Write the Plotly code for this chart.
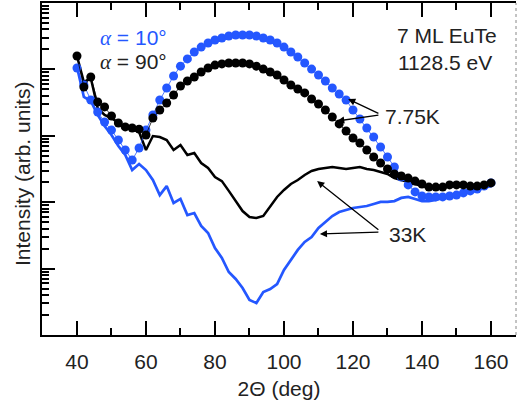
import math
import plotly.graph_objects as go

# Scattering angle 2Θ (deg), sampled every 2 degrees
theta = list(range(40, 161, 2))

# 7.75 K, alpha = 10 deg (blue dots)
i_a10_775K = [10500, 5820, 3460, 2280, 1610, 1220, 865, 611, 432, 655,
              1220, 2060, 3460, 5250, 7960, 11200, 14400, 18300, 21700, 25000,
              27700, 29700, 31800, 33000, 33000, 33000, 31800, 29700, 27700, 25000,
              21700, 18300, 15400, 12500, 10100, 8240, 6680, 5250, 4260, 3460,
              2450, 1790, 1310, 959, 678, 480, 339, 240, 182, 143,
              124, 120, 120, 120, 124, 128, 138, 148, 158, 175, 195]

# 7.75 K, alpha = 90 deg (black dots)
i_a90_775K = [15900, 5430, 7690, 3230, 2720, 1990, 1560, 1360, 1310, 1260,
              1030, 1850, 2450, 3120, 4110, 5620, 6680, 7690, 9140, 10500,
              11600, 12100, 12500, 12500, 12500, 12100, 11200, 10100, 9140, 8240,
              6920, 5820, 5070, 4420, 3580, 3010, 2450, 1920, 1510, 1180,
              927, 780, 611, 480, 389, 316, 266, 248, 231, 208,
              188, 169, 169, 169, 182, 182, 182, 175, 175, 182, 195]

# 33 K, alpha = 10 deg (blue line)
i_a10_33K = [10900, 3840, 3340, 2060, 1410, 1030, 702, 514, 305, 376,
             305, 216, 128, 175, 97.3, 112, 64.1, 68.7, 43.9, 34.4,
             20.4, 14.5, 8.89, 6.97, 5.11, 3.37, 3.03, 4.45, 4.93, 5.86,
             9.53, 13.5, 19.1, 25.2, 29.9, 40.8, 50.4, 61.9, 71.1, 76.4,
             81.8, 84.7, 87.7, 94.0, 101, 101, 104, 116, 120, 112,
             104, 104, 108, 116, 124, 133, 138, 143, 153, 164, 175]

# 33 K, alpha = 90 deg (black line)
i_a90_33K = [15900, 6460, 7410, 2620, 2060, 1850, 1560, 1360, 1260, 1140,
             611, 993, 959, 865, 611, 726, 514, 551, 389, 327,
             240, 208, 148, 104, 73.6, 59.8, 57.8, 61.9, 87.7, 120,
             153, 188, 216, 257, 295, 316, 327, 339, 327, 316,
             327, 339, 316, 305, 285, 266, 231, 216, 201, 188,
             175, 169, 169, 169, 182, 182, 182, 175, 175, 182, 195]

x_major = [40, 60, 80, 100, 120, 140, 160]
x_minor = [50, 70, 90, 110, 130, 150]
y_major = [1, 10, 100, 1000, 10000, 100000]
y_minor = [k * 10 ** n for n in range(5) for k in range(2, 10)]

BLUE = "#2457ff"
BLACK = "#000000"
TEXT = "#222222"
FONT = "Liberation Sans, Arial, sans-serif"

fig = go.Figure()

fig.add_trace(go.Scatter(x=theta, y=i_a90_33K, mode="lines",
                         line=dict(color=BLACK, width=2.5), name="α=90°, 33K"))
fig.add_trace(go.Scatter(x=theta, y=i_a10_33K, mode="lines",
                         line=dict(color=BLUE, width=2.7), name="α=10°, 33K"))
fig.add_trace(go.Scatter(x=theta, y=i_a10_775K, mode="lines+markers",
                         line=dict(color=BLUE, width=0.8),
                         marker=dict(color=BLUE, size=9), name="α=10°, 7.75K"))
fig.add_trace(go.Scatter(x=theta, y=i_a90_775K, mode="lines+markers",
                         line=dict(color=BLACK, width=0.8),
                         marker=dict(color=BLACK, size=9), name="α=90°, 7.75K"))

axis_common = dict(showgrid=False, zeroline=False, tickcolor=BLACK,
                   linecolor=BLACK, automargin=False)

fig.update_layout(
    width=518, height=407,
    margin=dict(l=42, r=2, t=3, b=72),
    template="none",
    plot_bgcolor="white", paper_bgcolor="white",
    showlegend=False,
    font=dict(family=FONT, size=21, color=TEXT),
    xaxis=dict(
        range=[29.86, 167.25], tickmode="array", tickvals=x_major,
        ticks="inside", ticklen=14, tickwidth=2, showline=True, linewidth=2,
        mirror="ticks", ticklabelstandoff=7,
        minor=dict(tickmode="array", tickvals=x_minor, ticks="inside",
                   ticklen=7, tickwidth=2, tickcolor=BLACK),
        title=dict(text="2Θ (deg)", standoff=9, font=dict(size=21, color=TEXT)),
        **axis_common),
    yaxis=dict(
        type="log", range=[0, 5], tickmode="array", tickvals=y_major,
        showticklabels=False, ticks="inside", ticklen=13, tickwidth=2,
        showline=True, linewidth=2, mirror=False,
        minor=dict(tickmode="array", tickvals=y_minor, ticks="inside",
                   ticklen=7, tickwidth=1.5, tickcolor=BLACK),
        **axis_common),
    yaxis2=dict(
        type="log", range=[0, 5], overlaying="y", side="right",
        tickmode="array", tickvals=y_major, showticklabels=False,
        ticks="inside", ticklen=5, tickwidth=1.5, tickcolor="#333",
        showline=False, showgrid=False, zeroline=False,
        minor=dict(tickmode="array", tickvals=y_minor, ticks="inside",
                   ticklen=2, tickwidth=1, tickcolor="#777")),
)

# dotted right-hand frame
fig.add_shape(type="line", xref="paper", yref="paper", x0=1, x1=1, y0=0, y1=1,
              line=dict(color="#888", width=1, dash="dot"))

# y-axis title
fig.add_annotation(text="Intensity (arb. units)", x=-0.040, y=0.485,
                   xref="paper", yref="paper", xanchor="center",
                   yanchor="middle", textangle=-90, showarrow=False,
                   font=dict(size=21, color=TEXT))

ALPHA = "<span style='font-family:Liberation Serif'><i>α</i></span>"

labels = [
    dict(text=ALPHA + " = 10°", x=0.118, y=0.895, xanchor="left", color=BLUE),
    dict(text=ALPHA + " = 90°", x=0.118, y=0.822, xanchor="left", color=TEXT),
    dict(text="7 ML EuTe", x=0.854, y=0.901, xanchor="center", color=TEXT),
    dict(text="1128.5 eV", x=0.850, y=0.822, xanchor="center", color=TEXT),
    dict(text="7.75K", x=0.719, y=0.657, xanchor="left", color=TEXT),
    dict(text="33K", x=0.728, y=0.304, xanchor="left", color=TEXT),
]
for lb in labels:
    fig.add_annotation(text=lb["text"], x=lb["x"], y=lb["y"], xref="paper",
                       yref="paper", xanchor=lb["xanchor"], yanchor="middle",
                       showarrow=False, font=dict(size=21, color=lb["color"]))

# arrows: (head theta, head intensity, tail theta, tail intensity)
arrows = [
    (118.6, 3580, 127.8, 2130),   # 7.75K -> blue dots
    (115.4, 1670, 127.8, 2060),   # 7.75K -> black dots
    (109.6, 208, 127.8, 36.8),    # 33K -> black line
    (110.4, 33.2, 127.8, 35.6),   # 33K -> blue line
]
for hx, hy, tx, ty in arrows:
    fig.add_annotation(x=hx, y=math.log10(hy), ax=tx, ay=math.log10(ty),
                       xref="x", yref="y", axref="x", ayref="y", text="",
                       showarrow=True, arrowhead=2, arrowsize=1.1,
                       arrowwidth=1.3, arrowcolor=BLACK, standoff=0)

fig.write_html("out.html")
